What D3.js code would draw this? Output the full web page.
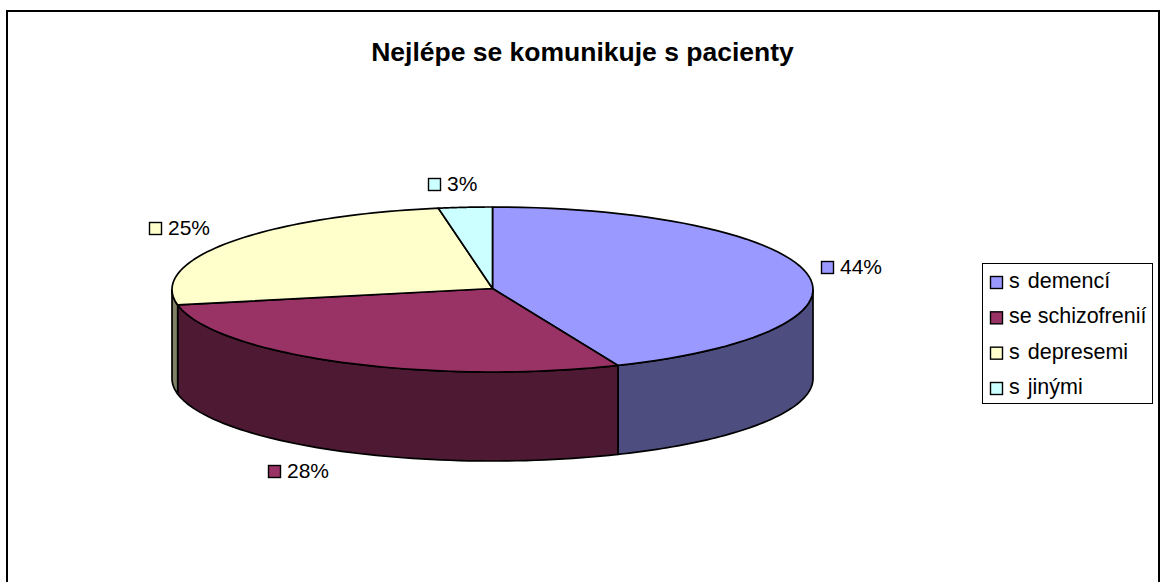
<!DOCTYPE html>
<html><head><meta charset="utf-8">
<script src="https://cdn.jsdelivr.net/npm/d3@7/dist/d3.min.js"></script>
<style>html,body{margin:0;background:#fff}svg{display:block;font-family:"Liberation Sans",Arial,sans-serif}</style>
</head><body><svg id="c" width="1160" height="582"></svg>
<script>
const titleText = "Nejlépe se komunikuje s pacienty";
const categories = ["s demencí","se schizofrenií","s depresemi","s jinými"];
const values = [43.6,28.4,25.3,2.7];
const topColors = ["#9999FF","#993366","#FFFFCC","#CCFFFF"];
const sideColors = ["#4D4D80","#4D1933","#808066","#668080"];
const labelBoxes = [[821,261],[268,465],[149,222],[428,178]];

const svg = d3.select("#c");
const W=1160,H=582, cx=492.5, cy=289.5, rx=320.5, ry=82.5, depth=89;
svg.append("rect").attr("width",W).attr("height",H).attr("fill","#fff");
svg.append("path").attr("d",`M7,${H}V11H1159V${H}`).attr("fill","none").attr("stroke","#000").attr("stroke-width",2);

svg.append("text").attr("x",582.5).attr("y",61).attr("text-anchor","middle")
  .attr("font-size",26.5).attr("font-weight","bold").attr("fill","#000").text(titleText);

const pie = d3.pie().sort(null).value(d=>d)(values);
const px = d3.scaleLinear().domain([-1,1]).range([cx-rx,cx+rx]);
const py = d3.scaleLinear().domain([-1,1]).range([cy-ry,cy+ry]);
const pt = (a,dz=0)=>[px(Math.sin(a)),py(-Math.cos(a))+dz];
const line = d3.line();
const samples = (a,b,dz=0)=>d3.range(0,61).map(i=>pt(a+(b-a)*i/60,dz));

const g = svg.append("g").attr("stroke","#000").attr("stroke-width",1.7).attr("stroke-linejoin","round");
// side walls: only the front half (pi/2 .. 3pi/2) is visible
pie.forEach((d,i)=>{
  const a=Math.max(d.startAngle,Math.PI/2), b=Math.min(d.endAngle,3*Math.PI/2);
  if(b<=a) return;
  const pts=samples(a,b,0).concat(samples(b,a,depth));
  g.append("path").attr("d",line(pts)+"Z").attr("fill",sideColors[i]);
});
// top faces
pie.forEach((d,i)=>{
  const pts=[[cx,cy-1]].concat(samples(d.startAngle,d.endAngle));
  g.append("path").attr("d",line(pts)+"Z").attr("fill",topColors[i]);
});

// data labels
pie.forEach((d,i)=>{
  const [x,y]=labelBoxes[i];
  svg.append("rect").attr("x",x+.5).attr("y",y+.5).attr("width",12).attr("height",12)
    .attr("fill",topColors[i]).attr("stroke","#000").attr("stroke-width",1.4);
  svg.append("text").attr("x",x+19).attr("y",y+13).attr("font-size",21).attr("fill","#000")
    .text(d3.format(".0f")(values[i])+"%");
});

// legend
const legend = svg.append("g");
legend.append("rect").attr("x",982.5).attr("y",263.5).attr("width",170).attr("height",140)
  .attr("fill","#fff").attr("stroke","#000").attr("stroke-width",1);
const rowY = d3.scalePoint().domain(categories).range([282,388]);
categories.forEach((c,i)=>{
  const y=rowY(c);
  legend.append("rect").attr("x",990.5).attr("y",y-5.5).attr("width",12).attr("height",12)
    .attr("fill",topColors[i]).attr("stroke","#000").attr("stroke-width",1.4);
  legend.append("text").attr("x",1009).attr("y",y+6).attr("font-size",21.5).attr("fill","#000")
    .attr("word-spacing",c.startsWith("se")?0:2).text(c);
});
</script></body></html>
